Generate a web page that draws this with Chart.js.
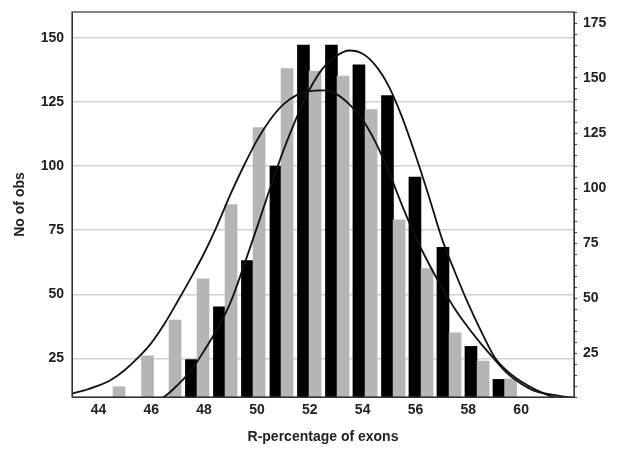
<!DOCTYPE html>
<html>
<head>
<meta charset="utf-8">
<script src="https://cdn.jsdelivr.net/npm/chart.js@4.4.0/dist/chart.umd.min.js"></script>
<style>
  html, body { margin: 0; padding: 0; background: #fff; }
</style>
</head>
<body>
<canvas id="histChart" width="617" height="449"></canvas>
<script>
// grey histogram (left axis): bin centres and counts
const grayBins = [44.78, 45.86, 46.90, 47.96, 49.02, 50.08, 51.14, 52.20, 53.26, 54.32, 55.38, 56.44, 57.50, 58.56, 59.60];
const grayCounts = [14, 26, 40, 56, 85, 115, 138, 137, 135, 122, 79, 60, 35, 24, 17];

// black histogram (right axis)
const blackBins = [47.52, 48.58, 49.64, 50.72, 51.76, 52.82, 53.86, 54.94, 55.98, 57.04, 58.10, 59.16];
const blackCounts = [22, 46, 67, 110, 165, 165, 156, 142, 105, 73, 28, 13];

// fitted curves
const curveX = [43, 43.5, 44, 44.5, 45, 45.5, 46, 46.5, 47, 47.5, 48, 48.5, 49, 49.5, 50, 50.5, 51, 51.5, 52, 52.5,
  53, 53.5, 54, 54.5, 55, 55.5, 56, 56.5, 57, 57.5, 58, 58.5, 59, 59.5, 60, 60.5, 61, 61.5, 62];
const grayFit = [11.3, 12.7, 14.4, 16.8, 20.5, 25.3, 31, 38.5, 47.3, 56.4, 66, 77, 89, 100, 110, 118, 124, 127.6, 129.2, 129.5,
  128, 124, 118, 109, 97.5, 84.5, 72.5, 62, 52.7, 44.2, 37, 30.5, 24.6, 19, 15.2, 12.4, 11.2, 10.3, 9.6];
const blackFit = [0.2, 0.5, 0.8, 1.2, 1.5, 2.2, 3, 5.2, 10.5, 17, 26, 36, 48, 64.5, 82, 100, 117, 132, 145, 154.5,
  160, 162.5, 161, 155.5, 146, 132, 115, 96.5, 77, 61.6, 47.3, 34.5, 23, 16.5, 12, 8.6, 6, 4, 2.5];

// tick labels
const leftTicks = [25, 50, 75, 100, 125, 150];
const rightTicks = [25, 50, 75, 100, 125, 150, 175];
const xTicks = [44, 46, 48, 50, 52, 54, 56, 58, 60];

const toPoints = (xs, ys) => xs.map((x, i) => ({ x: x, y: ys[i] }));

Chart.defaults.font.family = '"Liberation Sans", Arial, sans-serif';
Chart.defaults.font.size = 14;
Chart.defaults.font.weight = 'bold';
Chart.defaults.color = '#222';

const framePlugin = {
  id: 'frame',
  afterDatasetsDraw(chart) {
    const { ctx, chartArea: a } = chart;
    ctx.save();
    ctx.strokeStyle = '#333';
    ctx.lineWidth = 1.2;
    ctx.strokeRect(a.left, a.top, a.right - a.left, a.bottom - a.top);
    ctx.restore();
  }
};

new Chart(document.getElementById('histChart'), {
  type: 'bar',
  data: {
    datasets: [
      {
        type: 'line',
        data: toPoints(curveX, grayFit),
        yAxisID: 'y',
        borderColor: '#111',
        borderWidth: 1.8,
        pointRadius: 0,
        cubicInterpolationMode: 'monotone',
        order: 0
      },
      {
        type: 'line',
        data: toPoints(curveX, blackFit),
        yAxisID: 'y1',
        borderColor: '#111',
        borderWidth: 1.8,
        pointRadius: 0,
        cubicInterpolationMode: 'monotone',
        order: 0
      },
      {
        data: toPoints(grayBins, grayCounts),
        yAxisID: 'y',
        backgroundColor: '#b5b5b5',
        barThickness: 12,
        grouped: false,
        order: 1
      },
      {
        data: toPoints(blackBins, blackCounts),
        yAxisID: 'y1',
        backgroundColor: '#000',
        barThickness: 12,
        grouped: false,
        order: 1
      }
    ]
  },
  options: {
    responsive: false,
    animation: false,
    layout: { padding: { top: 12, left: 0, right: 0, bottom: 0 } },
    plugins: {
      legend: { display: false },
      tooltip: { enabled: false }
    },
    scales: {
      x: {
        type: 'linear',
        min: 43,
        max: 62,
        offset: false,
        afterBuildTicks(s) { s.ticks = xTicks.map(v => ({ value: v })); },
        ticks: { autoSkip: false, padding: 5 },
        grid: { drawOnChartArea: false, drawTicks: false },
        border: { color: '#333' },
        title: { display: true, text: 'R-percentage of exons', padding: { top: 4, bottom: 3 } },
        afterFit(s) { s.height = 52; s.paddingLeft = 0; s.paddingRight = 0; }
      },
      y: {
        min: 10,
        max: 160,
        afterBuildTicks(s) { s.ticks = leftTicks.map(v => ({ value: v })); },
        ticks: { autoSkip: false, padding: 8 },
        grid: { color: '#d0d0d0', lineWidth: 1.5, drawTicks: false },
        border: { color: '#333' },
        title: { display: true, text: 'No of obs', padding: { top: 12, bottom: 4 } },
        afterFit(s) { s.width = 72; s.paddingTop = 0; s.paddingBottom = 0; }
      },
      y1: {
        position: 'right',
        min: 5,
        max: 180,
        ticks: {
          stepSize: 5,
          autoSkip: false,
          padding: 6,
          callback: v => (rightTicks.includes(v) ? v : '')
        },
        grid: { drawOnChartArea: false, tickLength: 3, color: '#444' },
        border: { color: '#333' },
        afterFit(s) { s.width = 43; s.paddingTop = 0; s.paddingBottom = 0; }
      }
    }
  },
  plugins: [framePlugin]
});
</script>
</body>
</html>
